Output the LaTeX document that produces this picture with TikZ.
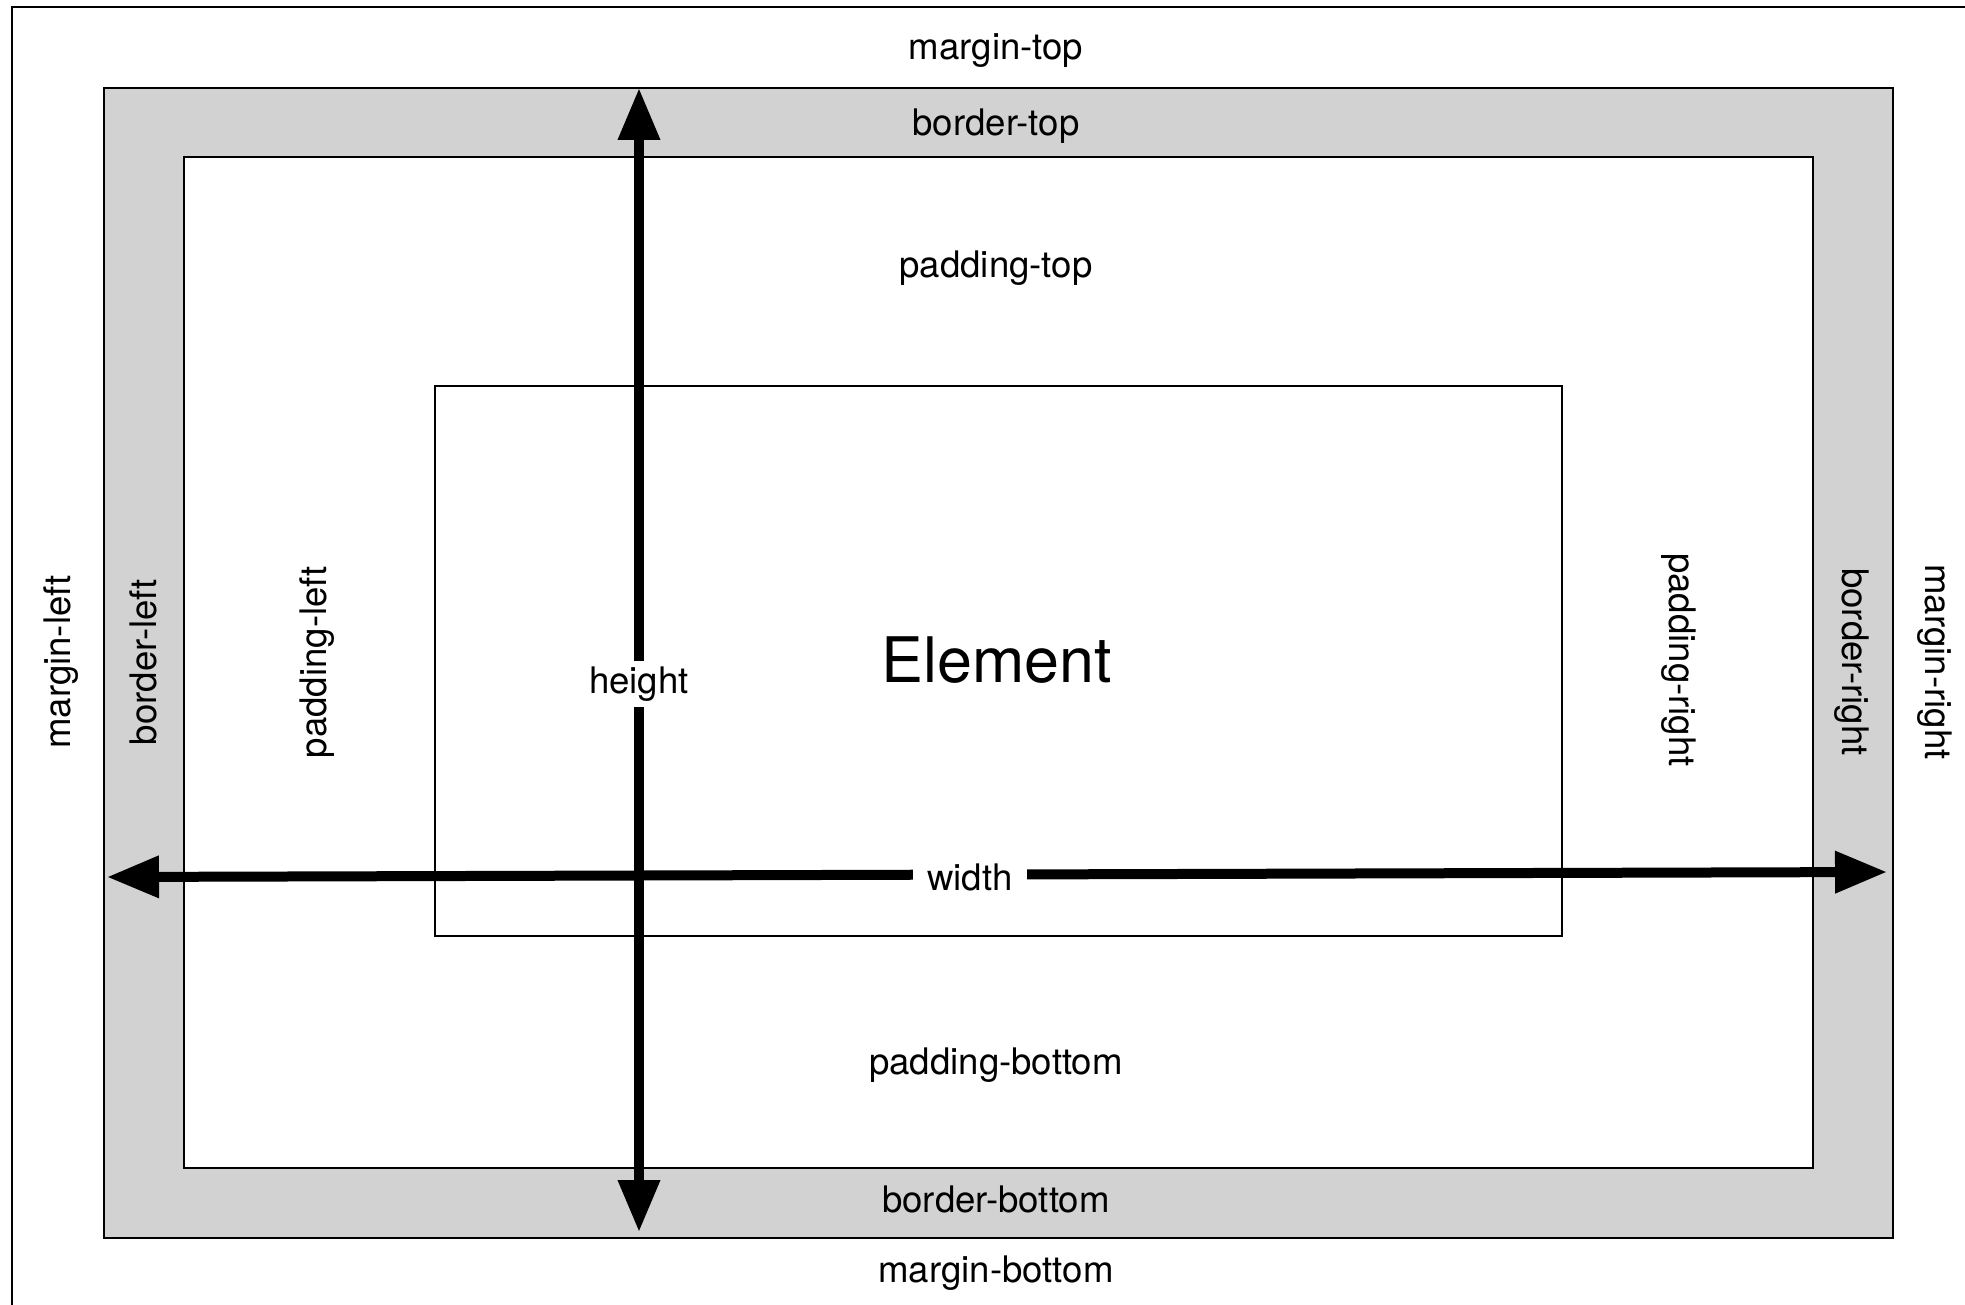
\documentclass[tikz,border=0pt]{standalone}
\usepackage{fontspec}
\setmainfont{TeX Gyre Heros}
\usetikzlibrary{arrows.meta}
\definecolor{bordergray}{HTML}{D2D2D2}
\begin{document}
\begin{tikzpicture}[x=0.5pt,y=-0.5pt,
  frameline/.style={draw=black,line width=1pt},
  lbl/.style={inner sep=0pt,font=\fontsize{18.3pt}{22pt}\selectfont},
  biglbl/.style={inner sep=0pt,font=\fontsize{31.4pt}{36pt}\selectfont},
  dimline/.style={line width=5pt,{Triangle[length=26pt,width=20pt]}-{Triangle[length=26pt,width=20pt]}},
  dimlbl/.style={lbl,fill=white,inner xsep=7pt,inner ysep=3pt}]
\useasboundingbox (0,0) rectangle (1965,1305);
\fill[white] (0,0) rectangle (1965,1305);
% outer frame (clipped at right and bottom)
\draw[frameline] (12,1305) -- (12,7) -- (1965,7);
% border box
\node[frameline,fill=bordergray,rectangle,inner sep=0pt,minimum width=1789*0.5pt,minimum height=1150*0.5pt,anchor=north west] (borderbox) at (103,87) {};
% padding box
\node[frameline,fill=white,rectangle,inner sep=0pt,minimum width=1629*0.5pt,minimum height=1011*0.5pt,anchor=north west] (paddingbox) at (183,156) {};
% element box
\node[draw=black,line width=0.9pt,fill=white,rectangle,inner sep=0pt,minimum width=1127*0.5pt,minimum height=550*0.5pt,anchor=north west] (elementbox) at (434,385) {};
% labels
\node[lbl] (mtop) at (996,51) {margin-top};
\node[lbl] (btop) at (996,126) {border-top};
\node[lbl] (ptop) at (996,268) {padding-top};
\node[biglbl] (elem) at (997,660) {Element};
\node[lbl] (pbot) at (996,1065) {padding-bottom};
\node[lbl] (bbot) at (996,1199) {border-bottom};
\node[lbl] (mbot) at (996,1273) {margin-bottom};
\node[lbl,rotate=90] (mleft) at (61,662) {margin-left};
\node[lbl,rotate=90] (bleft) at (143,662) {border-left};
\node[lbl,rotate=90] (pleft) at (317,662) {padding-left};
\node[lbl,rotate=-90] (pright) at (1679,660) {padding-right};
\node[lbl,rotate=-90] (bright) at (1852,662) {border-right};
\node[lbl,rotate=-90] (mright) at (1935,662) {margin-right};
% dimension arrows
\coordinate (htop) at (639,88);
\coordinate (hbot) at (639,1232);
\coordinate (wleft) at (107,877);
\coordinate (wright) at (1887,872);
\draw[dimline] (htop) -- (hbot);
\draw[dimline] (wleft) -- (wright);
\node[dimlbl] (hlbl) at (639,684) {height};
\node[dimlbl] (wlbl) at (970,877) {width};
\end{tikzpicture}
\end{document}
